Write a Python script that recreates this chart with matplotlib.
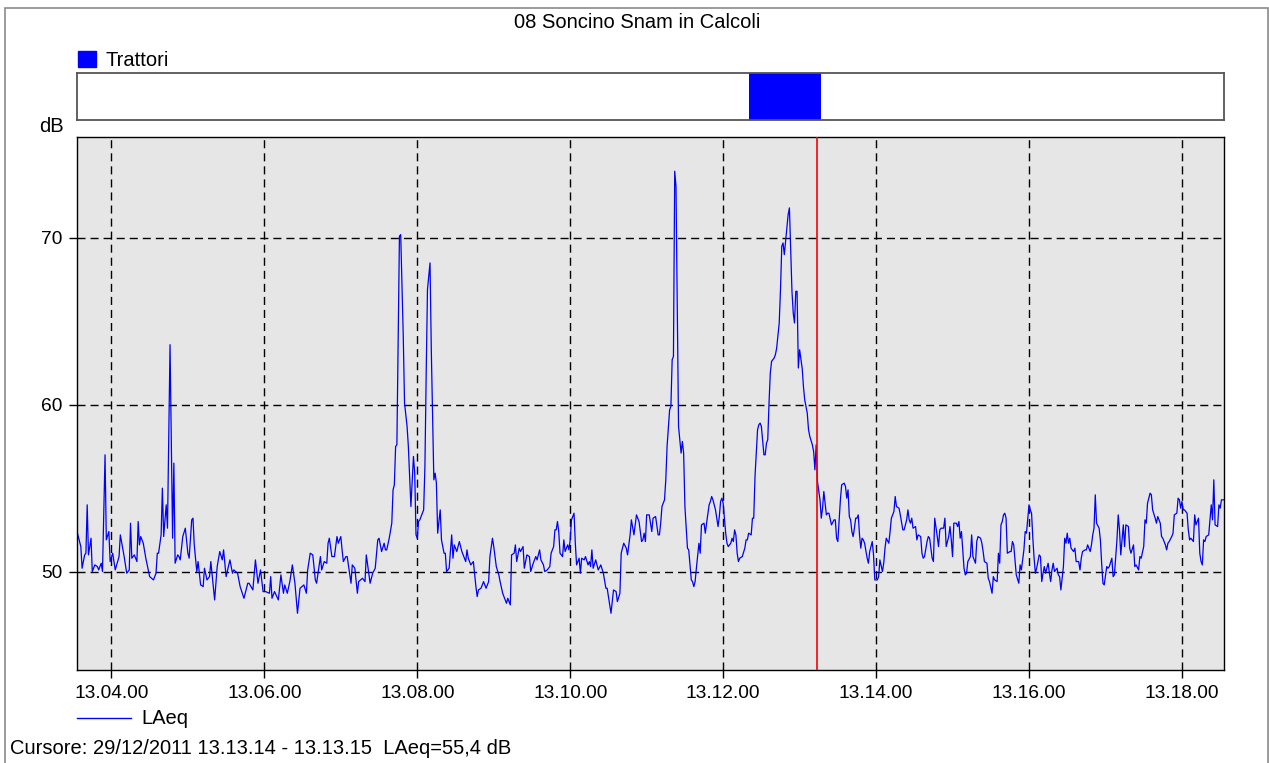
import matplotlib
matplotlib.use('Agg')
import matplotlib.pyplot as plt
from matplotlib.patches import Rectangle
from matplotlib.lines import Line2D
from matplotlib.ticker import FuncFormatter, FixedLocator

plt.rcParams['font.family'] = ['Liberation Sans', 'DejaVu Sans']
plt.rcParams['font.size'] = 14.5

# time: seconds after 13.03.00, value: LAeq in dB
sec = [
    33, 36, 37, 39, 40, 41, 42, 44, 45, 47, 49, 50,
    52, 53, 55, 56, 58, 59, 61, 63, 66, 67, 70, 72,
    74, 75, 76, 78, 80, 81, 82, 83, 85, 87, 90, 93,
    95, 96, 97, 99, 100, 101, 103, 104, 106, 108, 109, 110,
    112, 113, 114, 116, 118, 120, 121, 123, 124, 125, 127, 128,
    130, 132, 133, 135, 137, 138, 141, 143, 145, 147, 148, 150,
    153, 155, 156, 159, 161, 164, 167, 168, 171, 173, 175, 177,
    179, 181, 184, 185,
    186, 188, 191, 193, 195, 196, 198, 200, 202, 204, 206, 208,
    211, 213, 214, 216, 218, 220, 221, 224, 225, 227, 229, 230,
    231, 233, 235, 237, 238, 240, 241, 242, 244, 245, 248, 249,
    251, 253, 254, 257, 259, 260, 263, 265, 267, 269, 270, 272,
    274, 275, 276, 278, 280, 281, 282, 283, 284, 285, 286, 287,
    289, 290, 292, 293, 295, 297, 298, 299, 300, 301, 302, 305,
    306, 307, 308, 310, 311, 313, 314, 315, 316, 318, 319, 321,
    322, 323, 325, 327, 328, 329, 331, 333, 335,
    338, 339, 340, 342, 344, 346, 347, 348, 350, 352, 354, 356,
    357, 359, 360, 362, 364, 365, 367, 370, 371, 373, 374, 376,
    377, 378, 380, 381, 383, 384, 386, 388, 389, 391, 393, 394,
    396, 397, 399, 400, 402, 404, 405, 407, 408, 409, 410, 411,
    412, 414, 415, 416, 418, 419, 420, 421, 423, 424, 425, 427,
    428, 429, 431, 432, 434, 435, 436, 437, 438, 440, 441, 442,
    444, 446, 448, 449, 452, 454, 456, 457, 459, 460, 462, 464,
    465, 467, 468, 470, 472, 474, 476, 477, 478, 479, 480, 482,
    484,
    485, 487, 489, 490, 491, 492, 494, 495, 496, 498, 499, 500,
    501, 502, 503, 504, 505, 506, 507, 508, 509, 510, 512, 513,
    515, 516, 517, 518, 519, 521, 522, 523, 525, 526, 527, 529,
    530, 531, 532, 534, 536, 537, 538, 539, 540, 542, 543, 544,
    546, 547, 548, 549, 550, 551, 552, 553, 555, 557, 558, 559,
    560, 562, 563, 564, 565, 567, 568, 569, 570, 572, 573, 574,
    575, 576, 577, 578, 580, 581, 582, 584, 585, 586, 587, 588,
    590, 591, 592, 593, 594, 595, 596, 597, 598, 599, 600, 602,
    603, 604, 606, 607, 608, 610, 611, 612, 613, 614, 616, 617,
    618, 619, 621, 622, 623, 625, 627, 628, 629, 630, 631, 632,
    633,
    635, 636, 637, 638, 639, 640, 641, 642, 643, 644, 645, 646,
    647, 648, 649, 650, 651, 653, 654, 655, 657, 658, 659, 661,
    662, 663, 665, 666, 667, 668, 670, 671, 672, 674, 675, 676,
    678, 679, 681, 682, 684, 685, 686, 687, 688, 689, 691, 692,
    693, 695, 696, 697, 698, 700, 701, 702, 704, 705, 706, 708,
    709, 710, 711, 713, 714, 715, 717, 718, 719, 720, 721, 723,
    724, 725, 726, 727, 728, 729, 730, 731, 732, 734, 735, 736,
    738, 739, 740, 742, 743, 744, 745, 747, 748, 749, 751, 752,
    753, 755, 756, 757, 758, 759, 760, 761, 762, 763, 765, 766,
    767, 768, 769, 770, 772, 773, 774, 776, 777, 778, 780, 781,
    782,
    783, 784, 785, 786, 788, 789, 790, 791, 792, 793, 795, 796,
    797, 798, 799, 800, 802, 803, 804, 805, 807, 808, 809, 810,
    811, 812, 813, 815, 816, 817, 819, 820, 821, 822, 824, 825,
    826, 828, 829, 830, 831, 832, 833, 835, 836, 837, 838, 839,
    841, 842, 843, 845, 846, 847, 849, 850, 851, 852, 854, 855,
    856, 858, 859, 860, 862, 863, 864, 866, 867, 868, 870, 871,
    872, 873, 875, 876, 877, 879, 880, 881, 883, 884, 885, 887,
    888, 889, 890, 892, 893, 894, 896, 897, 898, 899, 900, 901,
    902, 904, 905, 906, 907, 909, 910, 911, 913, 914, 915, 916,
    917, 918, 919, 921, 922, 923, 924, 925, 926, 928, 929, 930,
    931, 933,
]
laeq = [
    52.4, 51.5, 50.2, 51.0, 51.1, 54.0, 51.0, 52.0, 50.0, 50.4, 50.3, 50.1,
    50.5, 50.0, 57.0, 51.9, 52.4, 50.6, 51.1, 50.1, 50.9, 52.2, 50.9, 49.9,
    50.1, 52.9, 50.8, 51.0, 50.6, 53.0, 51.6, 52.1, 51.7, 50.8, 49.7, 49.5,
    49.9, 51.1, 51.1, 52.2, 55.0, 52.1, 54.0, 52.6, 63.6, 52.0, 56.5, 50.5,
    51.0, 50.9, 50.7, 52.1, 52.6, 51.1, 50.8, 53.1, 53.2, 51.6, 50.0, 50.6,
    49.2, 49.1, 50.2, 49.5, 49.7, 50.6, 48.3, 50.3, 51.2, 50.7, 51.3, 49.7,
    50.7, 49.9, 50.1, 49.9, 49.1, 48.4, 49.3, 49.3, 48.9, 50.7, 49.3, 50.1,
    48.8, 48.8, 48.7, 49.7,
    48.4, 48.8, 48.3, 49.8, 48.7, 49.2, 48.7, 49.4, 50.4, 49.3, 47.5, 49.0,
    49.2, 48.7, 50.1, 51.1, 51.0, 49.5, 49.3, 50.9, 50.1, 50.6, 50.5, 51.7,
    52.0, 50.9, 50.9, 52.1, 51.7, 52.1, 51.3, 50.6, 50.9, 50.9, 49.3, 50.4,
    50.2, 48.7, 49.4, 49.6, 49.4, 51.0, 49.3, 49.9, 50.2, 51.9, 52.0, 51.2,
    51.7, 51.3, 51.3, 52.0, 52.9, 54.9, 55.2, 57.5, 57.6, 63.9, 70.1, 70.2,
    64.1, 60.1, 58.7, 57.5, 53.9, 56.9, 55.9, 52.2, 52.0, 53.0, 53.1, 53.7,
    56.3, 61.9, 66.9, 68.5, 63.3, 55.5, 55.9, 55.3, 52.3, 53.7, 51.9, 51.1,
    51.1, 50.0, 50.2, 52.2, 50.8, 51.6, 51.2, 51.8, 51.2,
    50.6, 51.3, 50.8, 50.4, 50.6, 49.1, 48.5, 48.9, 49.0, 49.4, 49.0, 49.4,
    50.9, 52.0, 51.5, 50.3, 49.8, 49.4, 48.7, 48.1, 48.4, 48.0, 51.0, 51.1,
    51.6, 50.6, 51.4, 51.2, 51.5, 50.2, 51.0, 50.9, 50.0, 50.5, 50.9, 50.7,
    51.3, 50.7, 50.4, 50.0, 50.1, 50.3, 51.1, 51.5, 52.5, 52.5, 53.0, 52.4,
    51.1, 50.9, 51.9, 51.2, 51.6, 51.3, 51.9, 53.1, 53.5, 51.7, 50.4, 50.8,
    49.9, 50.8, 50.7, 50.9, 50.4, 50.6, 50.3, 51.3, 50.2, 50.7, 50.4, 50.1,
    50.4, 49.9, 49.0, 49.0, 47.5, 48.9, 48.8, 48.2, 48.7, 51.1, 51.7, 51.4,
    51.0, 52.2, 53.1, 52.2, 53.4, 53.0, 51.8, 51.9, 52.3, 51.8, 53.4, 53.4,
    52.4,
    53.2, 53.3, 52.2, 52.2, 52.9, 53.9, 54.3, 55.5, 57.5, 59.7, 59.9, 62.7,
    62.9, 74.0, 73.1, 65.9, 58.7, 57.9, 57.1, 57.8, 57.1, 53.9, 51.4, 51.3,
    49.5, 49.4, 49.1, 49.4, 50.2, 51.7, 51.1, 52.8, 52.9, 52.3, 52.9, 54.0,
    54.2, 54.5, 54.3, 53.7, 52.7, 53.3, 54.2, 54.4, 54.1, 52.3, 51.7, 51.5,
    51.7, 52.0, 51.8, 52.5, 52.2, 51.1, 50.6, 50.8, 50.9, 51.4, 51.9, 51.9,
    52.3, 52.2, 53.2, 53.2, 55.7, 58.5, 58.8, 58.9, 58.7, 57.0, 57.0, 57.7,
    57.9, 60.1, 61.9, 62.6, 62.8, 63.0, 63.4, 64.9, 66.9, 69.5, 69.7, 69.0,
    70.6, 71.4, 71.8, 69.3, 66.8, 65.5, 64.9, 66.8, 66.8, 62.2, 63.3, 62.2,
    61.1, 60.3, 59.5, 58.5, 58.1, 57.6, 57.2, 56.1, 57.6, 55.4, 54.3, 53.2,
    53.8, 54.8, 53.4, 53.5, 53.5, 52.8, 53.1, 53.1, 52.0, 51.8, 53.1, 54.3,
    55.2,
    55.3, 55.1, 54.4, 54.9, 53.3, 53.1, 52.4, 52.1, 52.6, 53.2, 53.2, 53.4,
    52.2, 51.4, 52.0, 51.9, 51.7, 50.8, 50.5, 51.2, 51.8, 51.0, 49.5, 49.5,
    49.7, 50.7, 50.0, 50.5, 51.4, 52.0, 51.7, 52.4, 53.2, 53.6, 54.5, 53.9,
    53.8, 53.4, 52.5, 52.5, 53.1, 53.7, 53.1, 52.9, 53.2, 52.6, 52.7, 51.9,
    52.2, 52.1, 51.1, 50.8, 50.9, 51.8, 52.1, 52.0, 50.8, 50.6, 53.2, 52.1,
    51.5, 52.5, 52.6, 52.6, 53.2, 51.5, 52.1, 52.7, 51.9, 50.9, 52.9, 52.9,
    52.7, 53.0, 52.0, 52.4, 51.3, 50.2, 49.8, 49.9, 50.6, 50.9, 52.2, 50.9,
    50.5, 51.8, 52.1, 52.0, 51.7, 51.2, 50.6, 50.5, 49.6, 49.4, 48.7, 49.7,
    49.5, 49.4, 51.1, 50.5, 52.8, 53.0, 53.4, 53.5, 53.2, 51.1, 51.2, 51.2,
    51.8, 51.6, 50.7, 49.8, 49.3, 50.4, 50.1, 51.3, 52.4, 52.3, 54.0, 53.7,
    53.5,
    52.0, 50.8, 49.9, 50.2, 51.0, 50.9, 49.4, 49.9, 50.3, 49.9, 50.5, 49.9,
    49.4, 50.1, 50.5, 50.0, 50.2, 49.8, 49.7, 48.9, 50.3, 52.0, 51.7, 52.3,
    51.7, 52.0, 51.4, 51.2, 51.4, 50.6, 50.6, 50.1, 50.8, 51.2, 51.3, 51.3,
    51.6, 51.2, 51.6, 52.2, 52.6, 54.6, 52.9, 52.6, 51.9, 50.5, 49.3, 49.2,
    50.3, 50.2, 50.3, 50.8, 49.7, 49.8, 51.9, 53.4, 52.5, 51.0, 52.8, 51.5,
    52.8, 52.7, 51.4, 51.1, 51.6, 50.3, 50.4, 50.1, 50.9, 50.8, 51.5, 53.1,
    52.9, 54.1, 54.7, 54.6, 53.7, 53.2, 52.9, 53.3, 52.9, 52.1, 52.0, 51.6,
    51.3, 51.7, 51.8, 52.1, 52.3, 53.4, 53.5, 54.4, 54.3, 53.8, 54.2, 53.7,
    53.7, 53.5, 52.5, 51.9, 52.0, 51.8, 53.4, 52.8, 53.2, 51.1, 50.6, 50.4,
    51.9, 51.8, 52.1, 52.2, 53.1, 54.0, 53.1, 55.5, 52.8, 52.7, 54.0, 53.8,
    54.3, 54.3,
]

title = '08 Soncino Snam in Calcoli'
event_name = 'Trattori'
event_start, event_end = 560, 617
cursor_sec = 614
cursor_text = 'Cursore: 29/12/2011 13.13.14 - 13.13.15  LAeq=55,4 dB'
x_ticks = [60, 180, 300, 420, 540, 660, 780, 900]
y_ticks = [50, 60, 70]
blue = '#0000ff'

W, H = 1269, 763
fig = plt.figure(figsize=(W / 100, H / 100), dpi=100)


def box(l, t, r, b):
    # pixel box -> figure fraction rect
    return [l / W, 1 - b / H, (r - l) / W, (b - t) / H]


def fpos(x, y):
    return x / W, 1 - y / H


def fmt_time(v, pos):
    v = int(round(v))
    return '13.%02d.%02d' % (3 + v // 60, v % 60)


# outer frame
fig.add_artist(Rectangle((5 / W, -0.01), (1268 - 5) / W, 1 - 8 / H + 0.01,
                         transform=fig.transFigure, fill=False,
                         edgecolor='#8a8a8a', lw=1.2))

fig.text(*fpos(637, 22), title, ha='center', va='center', fontsize=14.5)

# event legend
fig.add_artist(Rectangle(fpos(78, 67), 18 / W, 16 / H,
                         transform=fig.transFigure, color=blue))
fig.text(*fpos(105, 60), event_name, ha='left', va='center', fontsize=14.5)

# event bar
ax_ev = fig.add_axes(box(77, 73, 1224, 120))
ax_ev.set_xlim(33, 933)
ax_ev.set_ylim(0, 1)
ax_ev.axvspan(event_start, event_end, color=blue, lw=0)
ax_ev.set_xticks([])
ax_ev.set_yticks([])
for s in ax_ev.spines.values():
    s.set_color('#555555')
    s.set_linewidth(1.3)

# main chart
ax = fig.add_axes(box(77, 137, 1224, 670))
ax.set_facecolor('#e6e6e6')
ax.plot(sec, laeq, color=blue, lw=0.9)
ax.axvline(cursor_sec, color='#ff0000', lw=1.2, zorder=3)
ax.set_xlim(33, 933)
ax.set_ylim(44.1, 76.05)
ax.xaxis.set_major_locator(FixedLocator(x_ticks))
ax.xaxis.set_major_formatter(FuncFormatter(fmt_time))
ax.set_yticks(y_ticks)
ax.grid(True, color='black', ls=(0, (5.8, 3.6)), lw=1.0)
ax.tick_params(direction='out', length=5.5, width=1, pad=5, labelsize=13.8)
for s in ax.spines.values():
    s.set_linewidth(1.0)

fig.text(*fpos(51, 127), 'dB', ha='center', va='center', fontsize=14.5)

# line legend
fig.add_artist(Line2D([77 / W, 131 / W], [1 - 718 / H, 1 - 718 / H],
                      transform=fig.transFigure, color=blue, lw=1.0))
fig.text(*fpos(141, 718), 'LAeq', ha='left', va='center', fontsize=14.5)

fig.text(*fpos(10, 748), cursor_text, ha='left', va='center', fontsize=14.5)

fig.savefig('out.png', dpi=100)
